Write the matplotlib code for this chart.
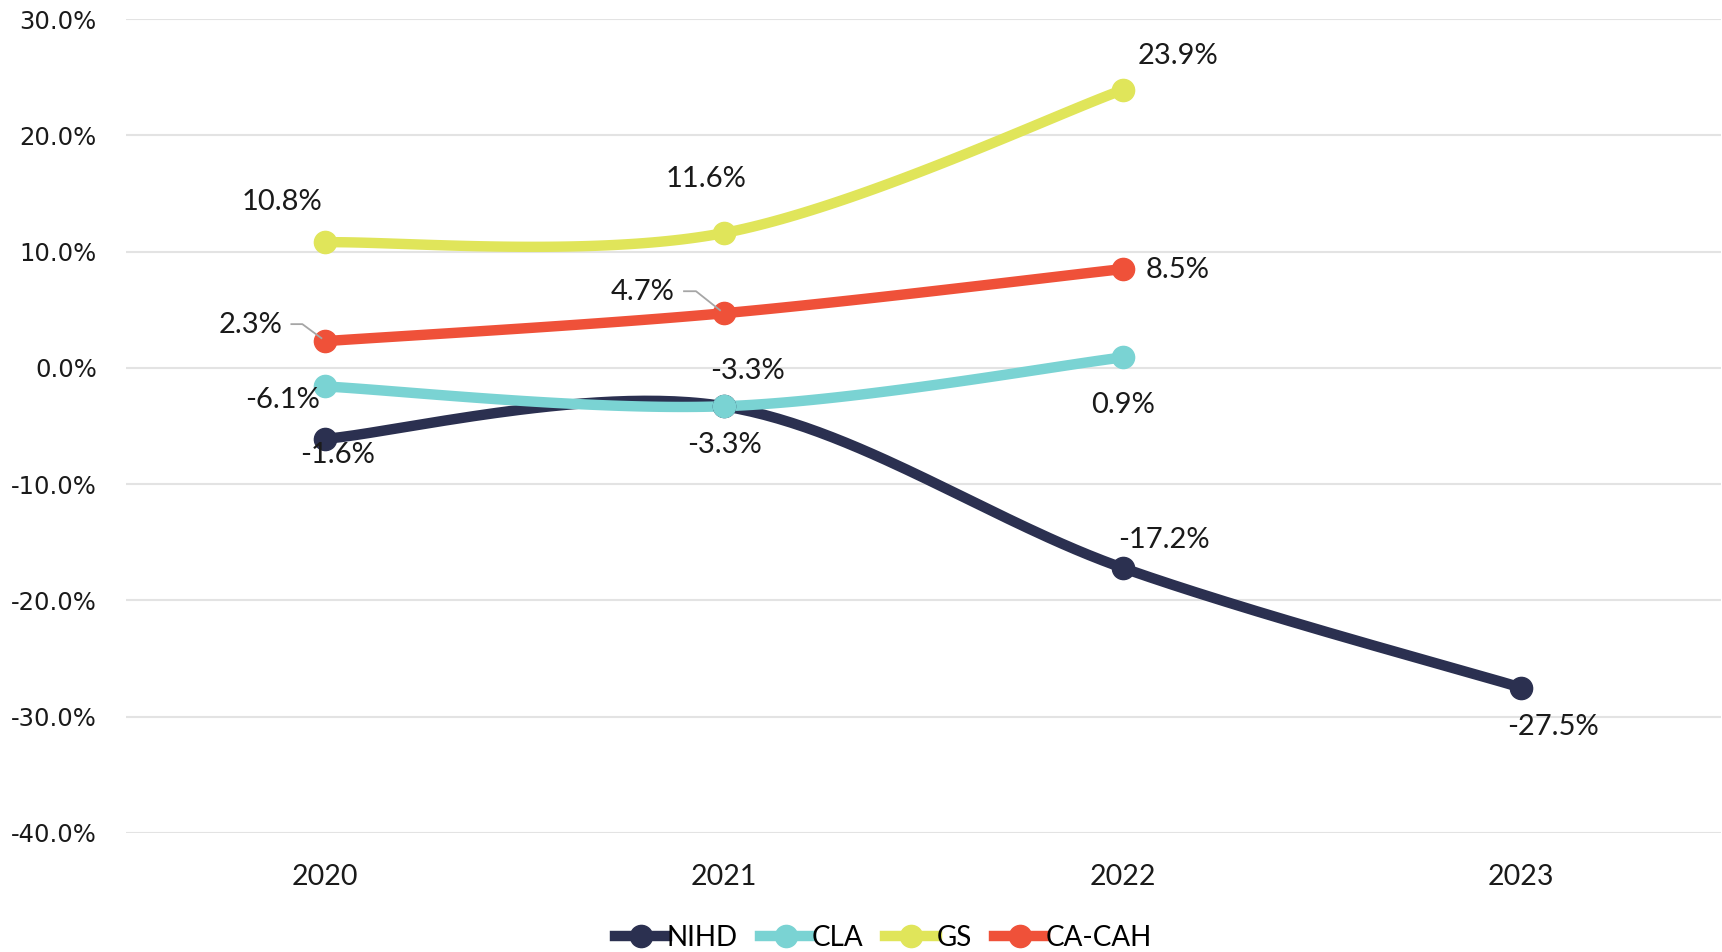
import numpy as np
import matplotlib
matplotlib.use("Agg")
import matplotlib.pyplot as plt
from matplotlib.lines import Line2D
from matplotlib.transforms import IdentityTransform
from matplotlib.font_manager import FontProperties

# dados
anos = ["2020", "2021", "2022", "2023"]
nihd = [-6.1, -3.3, -17.2, -27.5]
cla = [-1.6, -3.3, 0.9]
gs = [10.8, 11.6, 23.9]
ca_cah = [2.3, 4.7, 8.5]
eixo_y = [-40, -30, -20, -10, 0, 10, 20, 30]

# rótulos como aparecem no original (os de 2020 de NIHD/CLA estão trocados)
rot_nihd = ["-1.6%", "-3.3%", "-17.2%", "-27.5%"]
rot_cla = ["-6.1%", "-3.3%", "0.9%"]
rot_gs = ["10.8%", "11.6%", "23.9%"]
rot_ca = ["2.3%", "4.7%", "8.5%"]

series = [
    ("NIHD", nihd, rot_nihd, "#2B3050", [(12, -16), (0, -39), (41, 28), (32, -39)]),
    ("CLA", cla, rot_cla, "#7AD3D3", [(-43, -14), (23, 35), (0, -48)]),
    ("GS", gs, rot_gs, "#E0E55A", [(-43, 40), (-18, 54), (55, 34)]),
    ("CA-CAH", ca_cah, rot_ca, "#EF5139", [(-75, 16), (-81, 21), (55, -1)]),
]

LABEL_FONT = "Lato"
LW = 7.5
MS = 16


def curva_suave(xs, ys, n=60):
    """Curva suavizada estilo Excel (Bezier com tangentes Catmull-Rom)"""
    pts = np.column_stack([xs, ys]).astype(float)
    if len(pts) < 3:
        return pts[:, 0], pts[:, 1]
    ext = np.vstack([pts[0], pts, pts[-1]])
    out = []
    t = np.linspace(0, 1, n)[:, None]
    for i in range(len(pts) - 1):
        p0, p1, p2, p3 = ext[i], ext[i + 1], ext[i + 2], ext[i + 3]
        c1 = p1 + (p2 - p0) / 6
        c2 = p2 - (p3 - p1) / 6
        b = ((1 - t) ** 3) * p1 + 3 * ((1 - t) ** 2) * t * c1 \
            + 3 * (1 - t) * t ** 2 * c2 + t ** 3 * p2
        out.append(b)
    out = np.vstack(out)
    return out[:, 0], out[:, 1]


fig = plt.figure(figsize=(17.22, 9.52), dpi=100)
ax = fig.add_axes([0.0732, 0.125, 0.926, 0.855])
ax.set_xlim(-0.5, 3.5)
ax.set_ylim(-40, 30)

for nome, vals, rotulos, cor, offs in series:
    xs = np.arange(len(vals))
    cx, cy = curva_suave(xs, vals)
    ax.plot(cx, cy, color=cor, lw=LW, solid_capstyle="round", zorder=3)
    ax.plot(xs, vals, "o", color=cor, ms=MS, zorder=4)
    ax.plot([], [], "-o", color=cor, lw=LW, ms=MS, label=nome)
    for x, v, r, (dx, dy) in zip(xs, vals, rotulos, offs):
        ax.annotate(r, (x, v), xytext=(dx, dy), textcoords="offset pixels",
                    ha="center", va="center", fontsize=21,
                    family=LABEL_FONT, color="#1a1a1a", zorder=5)

# linhas de chamada (2.3% e 4.7%), em pixels a partir do ponto
chamadas = [
    (0, ca_cah[0], [(-34, 17), (-23, 17), (-4, 3)]),
    (1, ca_cah[1], [(-40, 22), (-28, 22), (-4, 3)]),
]
for x, v, verts in chamadas:
    px, py = ax.transData.transform((x, v))
    lx = [px + dx for dx, dy in verts]
    ly = [py + dy for dx, dy in verts]
    fig.add_artist(Line2D(lx, ly, transform=IdentityTransform(),
                          color="#A6A6A6", lw=1.3, zorder=2))

ax.set_xticks(range(len(anos)))
ax.set_xticklabels(anos, fontproperties=FontProperties(family=LABEL_FONT, size=20.5),
                   color="#1a1a1a")
ax.set_yticks(eixo_y)
ax.set_yticklabels([f"{v:.1f}%" for v in eixo_y],
                   fontproperties=FontProperties(family="DejaVu Sans", size=17.5),
                   color="#1a1a1a")
ax.tick_params(axis="y", length=0, pad=21)
ax.tick_params(axis="x", length=0, pad=22)
ax.grid(axis="y", color="#E3E3E3", lw=1.5)
ax.set_axisbelow(True)
for s in ax.spines.values():
    s.set_visible(False)

leg = fig.legend(loc="center", bbox_to_anchor=(0.513, 0.015), ncol=4,
                 frameon=False, handlelength=1.85, handletextpad=0.0,
                 columnspacing=0.8, borderpad=0,
                 prop=FontProperties(family=LABEL_FONT, size=20))

fig.savefig("out.png", dpi=100)
